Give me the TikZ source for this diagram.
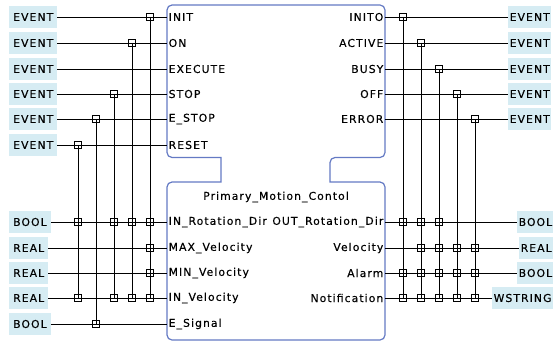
\documentclass[tikz,border=0pt]{standalone}
\usepackage{fontspec}
\usepackage{xcolor}
\usepackage{tikz}
\usetikzlibrary{positioning,calc}

\newfontfamily\pinfont[LetterSpace=10,FakeBold=0.3]{DejaVu Sans}
\definecolor{typefill}{RGB}{214,236,243}
\definecolor{fbline}{RGB}{100,122,196}

\begin{document}
\begin{tikzpicture}[
  x=1pt, y=-1pt,
  every node/.style={font=\pinfont\fontsize{10.8}{12}\selectfont},
  typebox/.style={rectangle, fill=typefill, anchor=west, inner xsep=4pt, minimum height=22pt, inner ysep=0pt},
  typeboxR/.style={typebox, inner xsep=1.5pt},
  pinL/.style={anchor=west, inner xsep=1.5pt, inner ysep=0pt},
  pinR/.style={anchor=east, inner xsep=1.5pt, inner ysep=0pt},
  jn/.style={rectangle, draw, line width=0.9pt, minimum size=7.5pt, inner sep=0pt},
  wire/.style={line width=0.9pt}
]
\useasboundingbox (0,0) rectangle (553,342);

% function block outline (header, neck, body)
\draw[fbline, line width=1.2pt, fill=white, rounded corners=5pt]
  (221,157.5) [sharp corners] -- (221,157.5) [rounded corners=5pt] -- (167,157.5) -- (167,5) -- (385,5) -- (385,157.5)
  -- (330,157.5) [sharp corners] -- (330,182) [rounded corners=5pt] -- (385,182) -- (385,340)
  -- (167,340) -- (167,182) [sharp corners] -- (221,182) -- cycle;

% event inputs / outputs
\node[pinL] (init)  at (167,17)  {INIT};
\node[pinL] (on)    at (167,43)  {ON};
\node[pinL] (exec)  at (167,69)  {EXECUTE};
\node[pinL] (stop)  at (167,94)  {STOP};
\node[pinL] (estop) at (167,119) {E\_STOP};
\node[pinL] (reset) at (167,145) {RESET};
\node[pinR] (inito)  at (385,17)  {INITO};
\node[pinR] (active) at (385,43)  {ACTIVE};
\node[pinR] (busy)   at (385,69)  {BUSY};
\node[pinR] (off)    at (385,94)  {OFF};
\node[pinR] (error)  at (385,119) {ERROR};

% data inputs / outputs
\node (title) at (276,197) {Primary\_Motion\_Contol};
\node[pinL] (inrot)  at (167,222) {IN\_Rotation\_Dir};
\node[pinL] (maxvel) at (167,248) {MAX\_Velocity};
\node[pinL] (minvel) at (167,273) {MIN\_Velocity};
\node[pinL] (invel)  at (167,298) {IN\_Velocity};
\node[pinL] (esig)   at (167,324) {E\_Signal};
\node[pinR] (outrot) at (385,222) {OUT\_Rotation\_Dir};
\node[pinR] (vel)    at (385,248) {Velocity};
\node[pinR] (alarm)  at (385,273) {Alarm};
\node[pinR] (notif)  at (385,298) {Notification};

% type boxes, left
\node[typebox] (tInit)  at (9,17)  {EVENT};
\node[typebox] (tOn)    at (9,43)  {EVENT};
\node[typebox] (tExec)  at (9,69)  {EVENT};
\node[typebox] (tStop)  at (9,94)  {EVENT};
\node[typebox] (tEstop) at (9,119) {EVENT};
\node[typebox] (tReset) at (9,145) {EVENT};
\node[typebox] (tInrot)  at (9,222) {BOOL};
\node[typebox] (tMaxvel) at (9,248) {REAL};
\node[typebox] (tMinvel) at (9,273) {REAL};
\node[typebox] (tInvel)  at (9,298) {REAL};
\node[typebox] (tEsig)   at (9,324) {BOOL};

% type boxes, right
\node[typeboxR] (tInito)  at (508,17)  {EVENT};
\node[typeboxR] (tActive) at (508,43)  {EVENT};
\node[typeboxR] (tBusy)   at (508,69)  {EVENT};
\node[typeboxR] (tOff)    at (508,94)  {EVENT};
\node[typeboxR] (tError)  at (508,119) {EVENT};
\node[typeboxR] (tOutrot) at (517,222) {BOOL};
\node[typeboxR] (tVel)    at (519,248) {REAL};
\node[typeboxR] (tAlarm)  at (517,273) {BOOL};
\node[typeboxR] (tNotif)  at (492,298) {WSTRING};

% horizontal wires
\draw[wire] (tInit) -- (init.west);   \draw[wire] (tOn) -- (on.west);
\draw[wire] (tExec) -- (exec.west);   \draw[wire] (tStop) -- (stop.west);
\draw[wire] (tEstop) -- (estop.west); \draw[wire] (tReset) -- (reset.west);
\draw[wire] (tInrot) -- (inrot.west); \draw[wire] (tMaxvel) -- (maxvel.west);
\draw[wire] (tMinvel) -- (minvel.west); \draw[wire] (tInvel) -- (invel.west);
\draw[wire] (tEsig) -- (esig.west);
\draw[wire] (inito.east) -- (tInito);   \draw[wire] (active.east) -- (tActive);
\draw[wire] (busy.east) -- (tBusy);     \draw[wire] (off.east) -- (tOff);
\draw[wire] (error.east) -- (tError);
\draw[wire] (outrot.east) -- (tOutrot); \draw[wire] (vel.east) -- (tVel);
\draw[wire] (alarm.east) -- (tAlarm);   \draw[wire] (notif.east) -- (tNotif);

% junctions, left
\node[jn] (jInit) at (150,17) {};  \node[jn] (jOn) at (132,43) {};
\node[jn] (jStop) at (114,94) {};  \node[jn] (jEstop) at (96,119) {};
\node[jn] (jReset) at (78,145) {};
\node[jn] (jRotA) at (78,222) {};  \node[jn] (jRotC) at (114,222) {};
\node[jn] (jRotD) at (132,222) {}; \node[jn] (jRotE) at (150,222) {};
\node[jn] (jMaxE) at (150,248) {}; \node[jn] (jMinE) at (150,273) {};
\node[jn] (jVelA) at (78,298) {};  \node[jn] (jVelC) at (114,298) {};
\node[jn] (jVelD) at (132,298) {}; \node[jn] (jVelE) at (150,298) {};
\node[jn] (jSigB) at (96,324) {};

% junctions, right
\node[jn] (jInito) at (403,17) {};  \node[jn] (jActive) at (421,43) {};
\node[jn] (jBusy) at (439,69) {};   \node[jn] (jOff) at (457,94) {};
\node[jn] (jError) at (475,119) {};
\node[jn] (kRotA) at (403,222) {}; \node[jn] (kRotB) at (421,222) {};
\node[jn] (kRotC) at (439,222) {};
\node[jn] (kVelB) at (421,248) {}; \node[jn] (kVelC) at (439,248) {};
\node[jn] (kVelD) at (457,248) {}; \node[jn] (kVelE) at (475,248) {};
\node[jn] (kAlmA) at (403,273) {}; \node[jn] (kAlmB) at (421,273) {};
\node[jn] (kAlmC) at (439,273) {}; \node[jn] (kAlmD) at (457,273) {};
\node[jn] (kAlmE) at (475,273) {};
\node[jn] (kNotA) at (403,298) {}; \node[jn] (kNotB) at (421,298) {};
\node[jn] (kNotC) at (439,298) {}; \node[jn] (kNotD) at (457,298) {};
\node[jn] (kNotE) at (475,298) {};

% vertical wires
\draw[wire] (jReset.center) -- (jVelA.center);
\draw[wire] (jEstop.center) -- (jSigB.center);
\draw[wire] (jStop.center) -- (jVelC.center);
\draw[wire] (jOn.center) -- (jVelD.center);
\draw[wire] (jInit.center) -- (jVelE.center);
\draw[wire] (jInito.center) -- (kNotA.center);
\draw[wire] (jActive.center) -- (kNotB.center);
\draw[wire] (jBusy.center) -- (kNotC.center);
\draw[wire] (jOff.center) -- (kNotD.center);
\draw[wire] (jError.center) -- (kNotE.center);
\end{tikzpicture}
\end{document}
